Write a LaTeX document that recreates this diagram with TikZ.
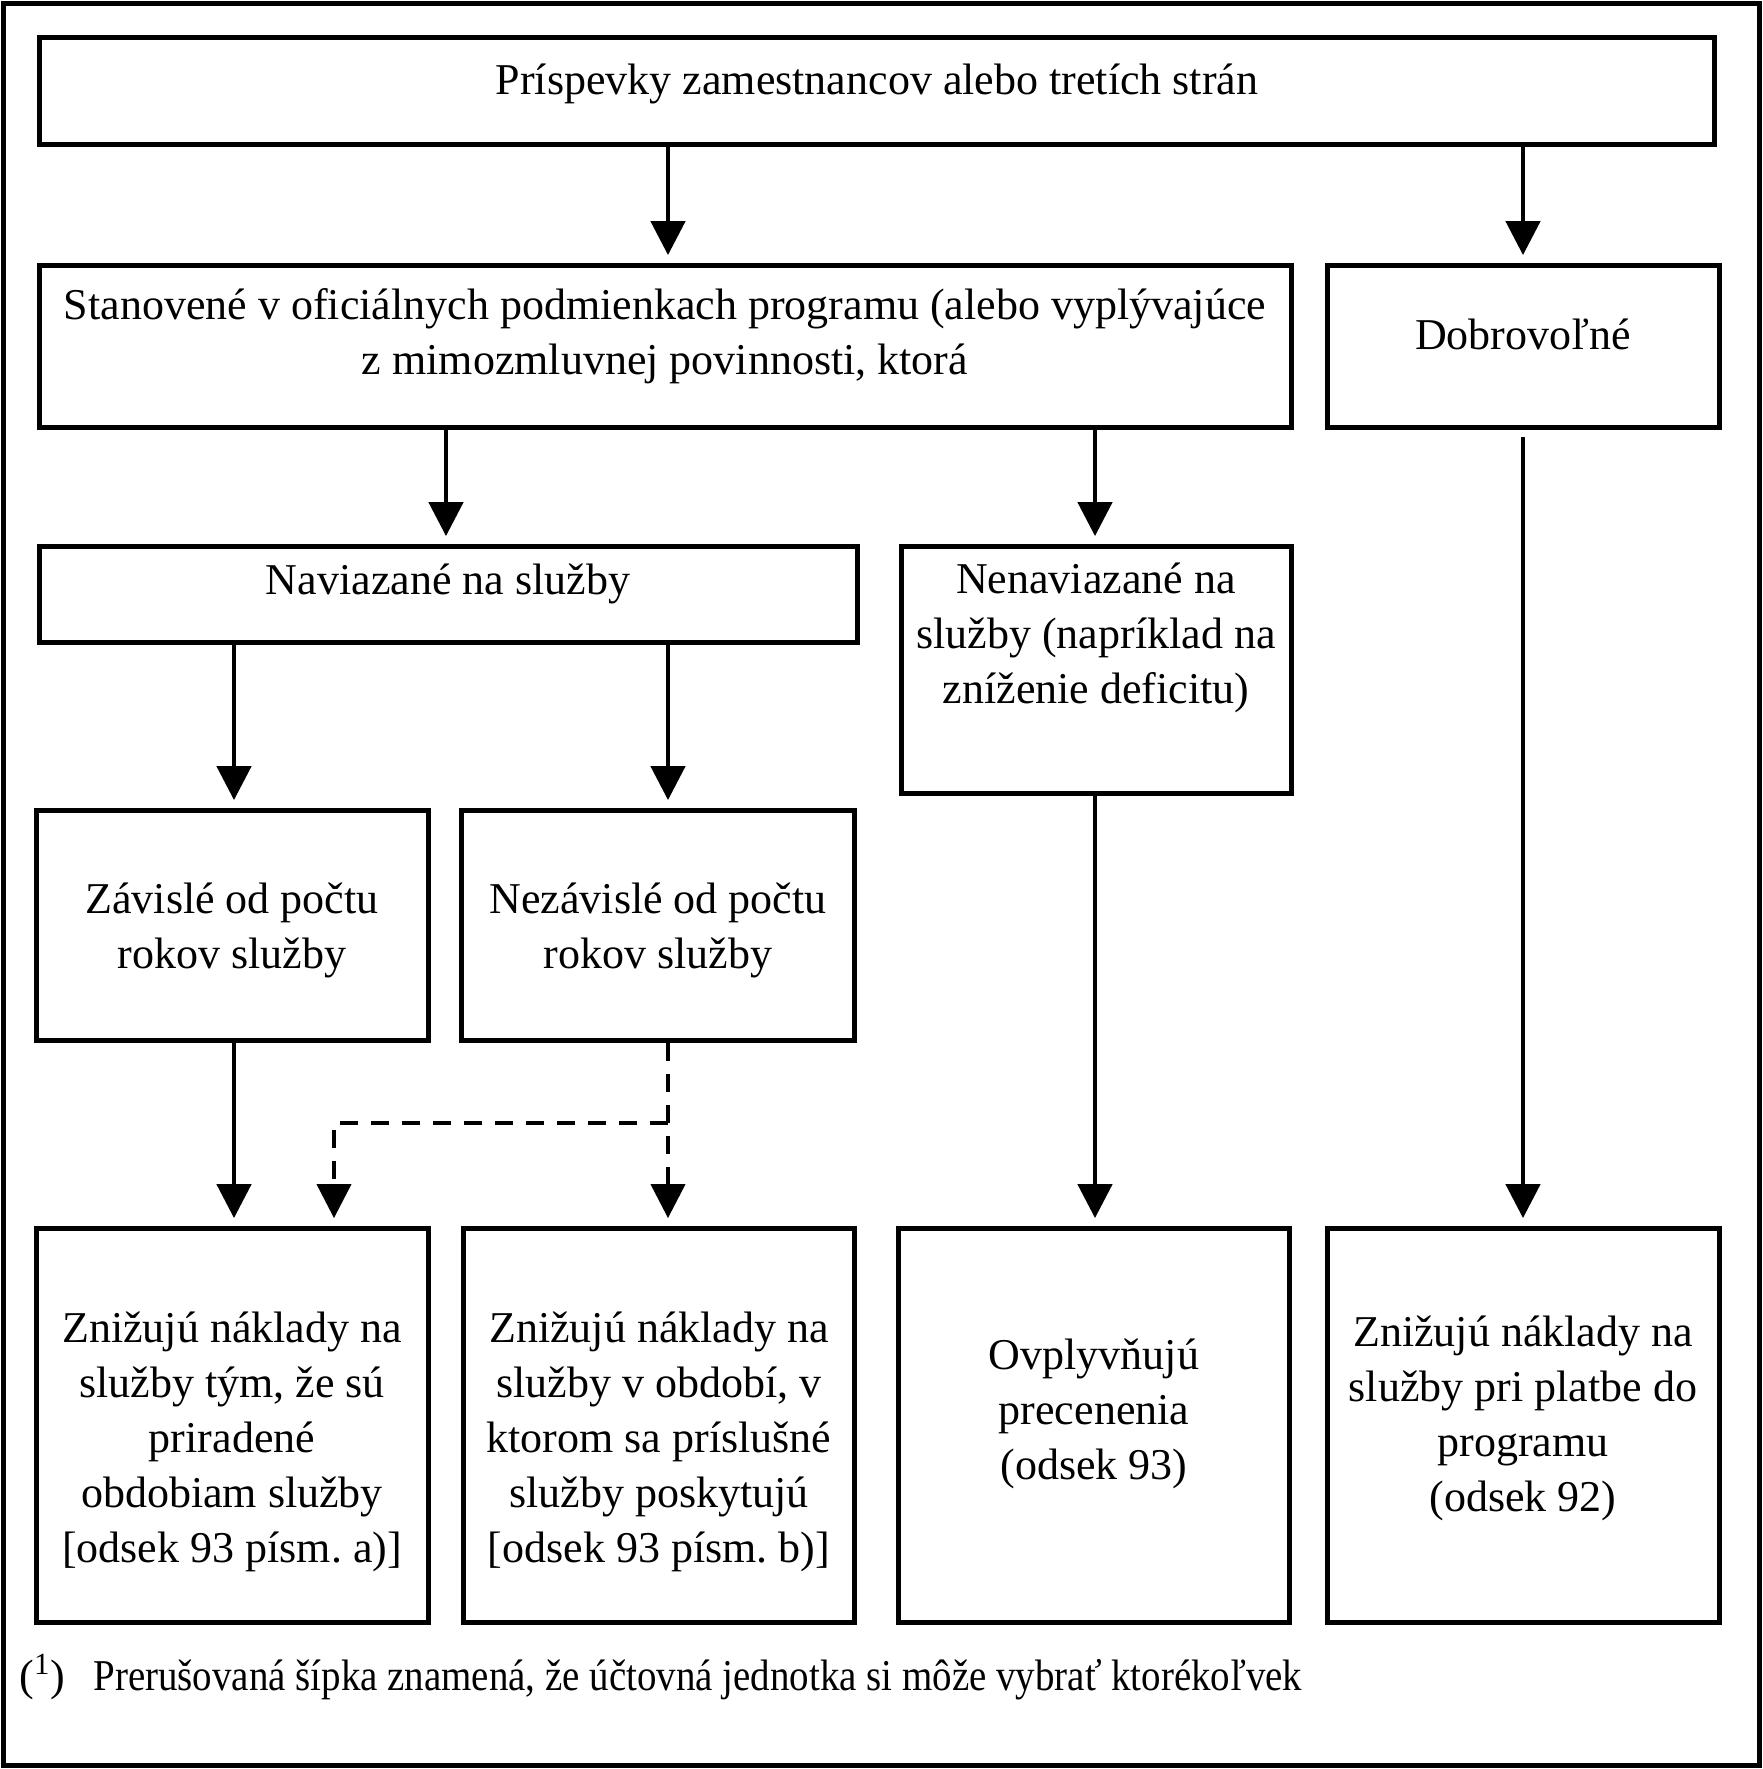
\documentclass[tikz,border=0pt]{standalone}
\usepackage{fontspec}
\setmainfont{Liberation Serif}
\usetikzlibrary{arrows.meta}
\frenchspacing
\begin{document}
\begin{tikzpicture}[x=0.5pt,y=-0.5pt,
  box/.style={draw,line width=2.4pt,inner sep=0pt},
  txt/.style={align=center,inner sep=0pt,font=\fontsize{22}{27.5}\selectfont},
  arr/.style={line width=2.3pt,-{Triangle[width=17pt,length=17pt]},shorten >=4pt},
  darr/.style={arr,line width=2pt,dash pattern=on 9pt off 6.5pt}]
\useasboundingbox (0,0) rectangle (1763,1769);
\node[box,minimum width=878pt,minimum height=881pt] (frame) at (881.5,884.5) {};
% boxes
\node[box,minimum width=837.5pt,minimum height=53.5pt] (top) at (877,91) {};
\node[box,minimum width=626pt,minimum height=81pt] (stan) at (665.5,346.5) {};
\node[box,minimum width=196pt,minimum height=81pt] (dobr) at (1523.5,346.5) {};
\node[box,minimum width=409pt,minimum height=48pt] (nav) at (448.5,594.5) {};
\node[box,minimum width=195pt,minimum height=123.5pt] (nenav) at (1096.5,670) {};
\node[box,minimum width=196pt,minimum height=115pt] (zav) at (232.5,925.5) {};
\node[box,minimum width=196.5pt,minimum height=115pt] (nezav) at (658,925.5) {};
\node[box,minimum width=196pt,minimum height=197pt] (b1) at (232.5,1425.5) {};
\node[box,minimum width=195.5pt,minimum height=197pt] (b2) at (659,1425.5) {};
\node[box,minimum width=195.5pt,minimum height=197pt] (b3) at (1094,1425.5) {};
\node[box,minimum width=196pt,minimum height=197pt] (b4) at (1523.5,1425.5) {};
% texts
\node[txt] (topT) at (877,84) {Príspevky zamestnancov alebo tretích strán};
\node[txt] (stanT) at (665,336) {Stanovené v oficiálnych podmienkach programu (alebo vyplývajúce\\ z mimozmluvnej povinnosti, ktorá};
\node[txt] (dobrT) at (1523,334) {Dobrovoľné};
\node[txt] (navT) at (448,584) {Naviazané na služby};
\node[txt] (nenavT) at (1096,638) {Nenaviazané na\\ služby (napríklad na\\ zníženie deficitu)};
\node[txt] (zavT) at (232,930) {Závislé od počtu\\ rokov služby};
\node[txt] (nezavT) at (658,930) {Nezávislé od počtu\\ rokov služby};
\node[txt] (b1T) at (232,1442) {Znižujú náklady na\\ služby tým, že sú\\ priradené\\ obdobiam služby\\ {[}odsek 93 písm. a)]};
\node[txt] (b2T) at (659,1442) {Znižujú náklady na\\ služby v období, v\\ ktorom sa príslušné\\ služby poskytujú\\ {[}odsek 93 písm. b)]};
\node[txt] (b3T) at (1094,1414) {Ovplyvňujú\\ precenenia\\ (odsek 93)};
\node[txt] (b4T) at (1523,1418) {Znižujú náklady na\\ služby pri platbe do\\ programu\\ (odsek 92)};
\node[txt,anchor=base west] (fnM) at (19,1690) {(\textsuperscript{1})};
\node[txt,anchor=base west] (fnT) at (93,1690) {\scalebox{0.885}[1]{Prerušovaná šípka znamená, že účtovná jednotka si môže vybrať ktorékoľvek}};
% columns
\coordinate (c1) at (234,0);
\coordinate (c2) at (334,0);
\coordinate (c3) at (446,0);
\coordinate (c4) at (668,0);
\coordinate (c5) at (1095,0);
\coordinate (c6) at (1523,0);
\coordinate (jn) at (668,1123);
% arrows
\draw[arr] (top.south -| c4) -- (stan.north -| c4);
\draw[arr] (top.south -| c6) -- (dobr.north -| c6);
\draw[arr] (stan.south -| c3) -- (nav.north -| c3);
\draw[arr] (stan.south -| c5) -- (nenav.north -| c5);
\draw[arr] (nav.south -| c1) -- (zav.north -| c1);
\draw[arr] (nav.south -| c4) -- (nezav.north -| c4);
\draw[arr] (zav.south -| c1) -- (b1.north -| c1);
\draw[darr] (nezav.south -| c4) -- (b2.north -| c4);
\draw[darr] (jn) -| (b1.north -| c2);
\draw[arr] (nenav.south -| c5) -- (b3.north -| c5);
\draw[arr,shorten <=3.5pt] (dobr.south -| c6) -- (b4.north -| c6);
\end{tikzpicture}
\end{document}
